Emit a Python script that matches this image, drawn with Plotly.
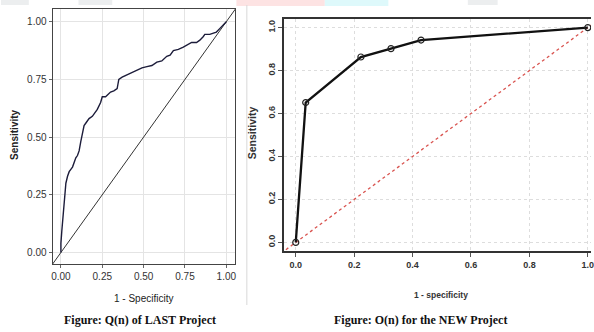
import plotly.graph_objects as go

# ---- Data: left panel (LAST project ROC) ----
last_fpr = [0, 0.0, 0.005, 0.01, 0.012, 0.018, 0.024, 0.03, 0.04, 0.05,
            0.06, 0.07, 0.08, 0.09, 0.1, 0.11, 0.12, 0.13, 0.14, 0.15,
            0.17, 0.19, 0.21, 0.22, 0.24, 0.25, 0.27, 0.30, 0.32, 0.34,
            0.345, 0.35, 0.37, 0.40, 0.43, 0.46, 0.49, 0.52, 0.55, 0.58,
            0.61, 0.64, 0.66, 0.68, 0.71, 0.74, 0.77, 0.79, 0.82, 0.84,
            0.86, 0.87, 0.90, 0.92, 0.94, 0.96, 0.98, 1.0]
last_tpr = [0, 0.04, 0.09, 0.13, 0.18, 0.23, 0.26, 0.30, 0.33, 0.35,
            0.36, 0.37, 0.39, 0.41, 0.42, 0.44, 0.48, 0.51, 0.55, 0.56,
            0.58, 0.59, 0.61, 0.62, 0.65, 0.675, 0.675, 0.695, 0.70, 0.71,
            0.73, 0.75, 0.76, 0.77, 0.78, 0.79, 0.80, 0.805, 0.81, 0.825,
            0.83, 0.85, 0.855, 0.875, 0.88, 0.89, 0.90, 0.91, 0.91, 0.92,
            0.935, 0.945, 0.945, 0.95, 0.955, 0.97, 0.985, 1.0]
last_ticks = [0.0, 0.25, 0.5, 0.75, 1.0]
last_ticklabels = ["0.00", "0.25", "0.50", "0.75", "1.00"]

# ---- Data: right panel (NEW project ROC) ----
new_fpr = [0.0, 0.034, 0.223, 0.326, 0.429, 1.0]
new_tpr = [0.0, 0.651, 0.863, 0.902, 0.942, 1.0]
new_ticks = [0.0, 0.2, 0.4, 0.6, 0.8, 1.0]
new_ticklabels = ["0.0", "0.2", "0.4", "0.6", "0.8", "1.0"]

diag = [-0.1, 1.1]

W, H = 594, 332
def px_x(p): return p / W
def px_y(p): return 1 - p / H

fig = go.Figure()

# left panel
fig.add_trace(go.Scatter(x=diag, y=diag, mode="lines", xaxis="x", yaxis="y",
                         line=dict(color="#333333", width=1), showlegend=False))
fig.add_trace(go.Scatter(x=last_fpr, y=last_tpr, mode="lines", xaxis="x", yaxis="y",
                         line=dict(color="#1c1c3a", width=1.4), showlegend=False))

# right panel
fig.add_trace(go.Scatter(x=diag, y=diag, mode="lines", xaxis="x2", yaxis="y2",
                         line=dict(color="#d9534f", width=1.3, dash="dot"), showlegend=False))
fig.add_trace(go.Scatter(x=new_fpr, y=new_tpr, mode="lines+markers", xaxis="x2", yaxis="y2",
                         line=dict(color="#111111", width=2.3),
                         marker=dict(symbol="circle-open", size=6, color="#222222",
                                     line=dict(width=1.2)),
                         showlegend=False))

NARROW = "Liberation Sans Narrow, Liberation Sans, Arial"
tickfont_l = dict(family=NARROW, size=10, color="#333333")
tickfont_r = dict(family=NARROW, size=9, color="#333333", weight="bold")

fig.update_layout(
    width=W, height=H,
    margin=dict(l=0, r=0, t=0, b=0),
    paper_bgcolor="white", plot_bgcolor="white",
    xaxis=dict(domain=[px_x(52), px_x(236)], range=[-0.05, 1.055],
               tickvals=last_ticks, ticktext=last_ticklabels, tickfont=tickfont_l,
               showgrid=True, gridcolor="#e4e4e4", gridwidth=1, zeroline=False,
               showline=True, linecolor="#444444", linewidth=1.2, mirror=True,
               ticks="outside", ticklen=3, tickcolor="#666666", anchor="y"),
    yaxis=dict(domain=[px_y(264), px_y(9)], range=[-0.05, 1.055],
               tickvals=last_ticks, ticktext=last_ticklabels, tickfont=tickfont_l,
               showgrid=True, gridcolor="#e4e4e4", gridwidth=1, zeroline=False,
               showline=True, linecolor="#444444", linewidth=1.2, mirror=True,
               ticks="outside", ticklen=3, tickcolor="#666666", anchor="x"),
    xaxis2=dict(domain=[px_x(285), 1.0], range=[-0.04, 1.011],
                tickvals=new_ticks, ticktext=new_ticklabels, tickfont=tickfont_r,
                ticklabeloverflow="allow",
                showgrid=True, gridcolor="#dddddd", griddash="dot", gridwidth=1, zeroline=False,
                showline=True, linecolor="#333333", linewidth=1.5, mirror=True,
                ticks="outside", ticklen=4, tickcolor="#555555", anchor="y2"),
    yaxis2=dict(domain=[px_y(251), px_y(19)], range=[-0.04, 1.04],
                tickvals=new_ticks, ticktext=new_ticklabels, tickfont=tickfont_r, tickangle=-90,
                showgrid=True, gridcolor="#dddddd", griddash="dot", gridwidth=1, zeroline=False,
                showline=True, linecolor="#333333", linewidth=1.5,
                ticks="outside", ticklen=4, tickcolor="#555555", anchor="x2"),
)

# faint page decorations (watermark fragments and column divider)
shapes = [
    dict(type="rect", x0=px_x(237), x1=px_x(326), y0=px_y(6), y1=1, fillcolor="#fde3e3", line_width=0),
    dict(type="rect", x0=px_x(326), x1=px_x(390), y0=px_y(6), y1=1, fillcolor="#def9fb", line_width=0),
    dict(type="rect", x0=0, x1=px_x(28), y0=px_y(5), y1=1, fillcolor="#eceeef", line_width=0),
    dict(type="rect", x0=px_x(78), x1=px_x(112), y0=px_y(5), y1=1, fillcolor="#eceeef", line_width=0),
    dict(type="rect", x0=px_x(470), x1=px_x(500), y0=px_y(5), y1=1, fillcolor="#eceeef", line_width=0),
    dict(type="line", x0=px_x(247.5), x1=px_x(247.5), y0=px_y(5), y1=px_y(305),
         line=dict(color="#d8d8d8", width=1)),
]
for s in shapes:
    fig.add_shape(xref="paper", yref="paper", layer="below", **s)

annots = [
    dict(text="Sensitivity", x=px_x(14), y=px_y(135), textangle=-90,
         font=dict(family=NARROW, size=10, color="#222222", weight="bold")),
    dict(text="1 - Specificity", x=px_x(143), y=px_y(298),
         font=dict(family=NARROW, size=10, color="#222222")),
    dict(text="Figure: Q(n) of LAST Project", x=px_x(140), y=px_y(320),
         font=dict(family="Liberation Serif", size=12, color="#111111", weight="bold")),
    dict(text="Sensitivity", x=px_x(253), y=px_y(133), textangle=-90,
         font=dict(family=NARROW, size=10.5, color="#333333", weight="bold")),
    dict(text="1 - specificity", x=px_x(443), y=px_y(295),
         font=dict(family=NARROW, size=8.5, color="#333333", weight="bold")),
    dict(text="Figure: O(n) for the NEW Project", x=px_x(422), y=px_y(320),
         font=dict(family="Liberation Serif", size=12, color="#111111", weight="bold")),
]
for a in annots:
    fig.add_annotation(xref="paper", yref="paper", showarrow=False,
                       xanchor="center", yanchor="middle", **a)

fig.write_html("out.html")
